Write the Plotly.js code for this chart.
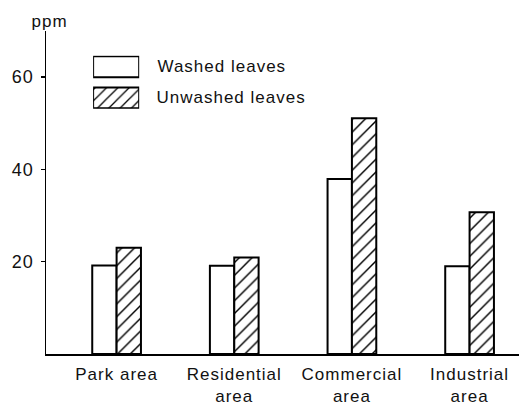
<!DOCTYPE html>
<html>
<head>
<meta charset="utf-8">
<script src="https://cdn.plot.ly/plotly-3.0.1.min.js"></script>
<style>
html,body{margin:0;padding:0;background:#fff;}
#chart{width:523px;height:405px;}
#chart svg text{letter-spacing:1px;}
</style>
</head>
<body>
<div id="chart"></div>
<script>
// ---- data ----
var categories = ['Park area', 'Residential area', 'Commercial area', 'Industrial area'];
var tickLabels = ['Park area', 'Residential<br>area', 'Commercial<br>area', 'Industrial<br>area'];
var washed = [19.2, 19.1, 37.9, 19.0];
var unwashed = [23.0, 20.9, 51.1, 30.7];
var seriesNames = ['Washed leaves', 'Unwashed leaves'];
var yTicks = [20, 40, 60];
var legendValue = [1, 1];

var FONT = 'Liberation Sans, Arial, sans-serif';

var traces = [
  {
    type: 'bar', name: seriesNames[0], x: categories, y: washed,
    marker: {color: 'white', line: {color: 'black', width: 2}},
    showlegend: false, hoverinfo: 'skip'
  },
  {
    type: 'bar', name: seriesNames[1], x: categories, y: unwashed,
    marker: {color: 'white', line: {color: 'black', width: 2},
      pattern: {shape: '/', fgcolor: 'black', bgcolor: 'white', size: 9, solidity: 0.16}},
    showlegend: false, hoverinfo: 'skip'
  },
  // legend swatches (inset axes)
  {
    type: 'bar', orientation: 'h', x: [legendValue[0]], y: [seriesNames[0]],
    xaxis: 'x2', yaxis: 'y2', width: 0.67,
    marker: {color: 'white', line: {color: 'black', width: 2}},
    showlegend: false, hoverinfo: 'skip'
  },
  {
    type: 'bar', orientation: 'h', x: [legendValue[1]], y: [seriesNames[1]],
    xaxis: 'x2', yaxis: 'y2', width: 0.67,
    marker: {color: 'white', line: {color: 'black', width: 2},
      pattern: {shape: '/', fgcolor: 'black', bgcolor: 'white', size: 8, solidity: 0.16}},
    showlegend: false, hoverinfo: 'skip'
  }
];

var layout = {
  width: 523, height: 405,
  margin: {l: 46, r: 4, t: 31, b: 50.5},
  paper_bgcolor: 'white', plot_bgcolor: 'white',
  font: {family: FONT, size: 17, color: '#111'},
  barmode: 'group', bargap: 0.586, bargroupgap: 0,
  showlegend: false,
  xaxis: {
    type: 'category', categoryorder: 'array', categoryarray: categories,
    tickmode: 'array', tickvals: categories, ticktext: tickLabels,
    range: [-0.6, 3.42],
    showline: true, linecolor: 'black', linewidth: 1.5,
    ticks: '', showgrid: false, zeroline: false,
    tickfont: {family: FONT, size: 17, color: '#111'},
    ticklabelstandoff: 4
  },
  yaxis: {
    range: [0, 70], tickmode: 'array', tickvals: yTicks,
    showline: true, linecolor: 'black', linewidth: 1.5,
    ticks: 'outside', ticklen: 4, tickwidth: 1.5, tickcolor: 'black',
    showgrid: false, zeroline: false,
    tickfont: {family: FONT, size: 18, color: '#111'},
    ticklabelstandoff: 3
  },
  xaxis2: {
    domain: [0.0996, 0.197], range: [0, 1], anchor: 'y2',
    visible: false, fixedrange: true
  },
  yaxis2: {
    domain: [0.759, 0.923], range: [-0.35, 1.35], anchor: 'x2',
    type: 'category', categoryorder: 'array', categoryarray: [seriesNames[1], seriesNames[0]],
    visible: false, fixedrange: true
  },
  annotations: [
    {text: 'ppm', xref: 'paper', yref: 'paper', x: 0.008, y: 1.0, xanchor: 'center', yanchor: 'bottom',
     showarrow: false, font: {family: FONT, size: 17, color: '#111'}, yshift: -2},
    {text: seriesNames[0], xref: 'paper', yref: 'y2', x: 0.246, y: seriesNames[0], xanchor: 'left', yanchor: 'middle',
     showarrow: false, font: {family: FONT, size: 17, color: '#111'}},
    {text: seriesNames[1], xref: 'paper', yref: 'y2', x: 0.246, y: seriesNames[1], xanchor: 'left', yanchor: 'middle',
     showarrow: false, font: {family: FONT, size: 17, color: '#111'}}
  ]
};

Plotly.newPlot('chart', traces, layout, {displayModeBar: false, staticPlot: true});
</script>
</body>
</html>
